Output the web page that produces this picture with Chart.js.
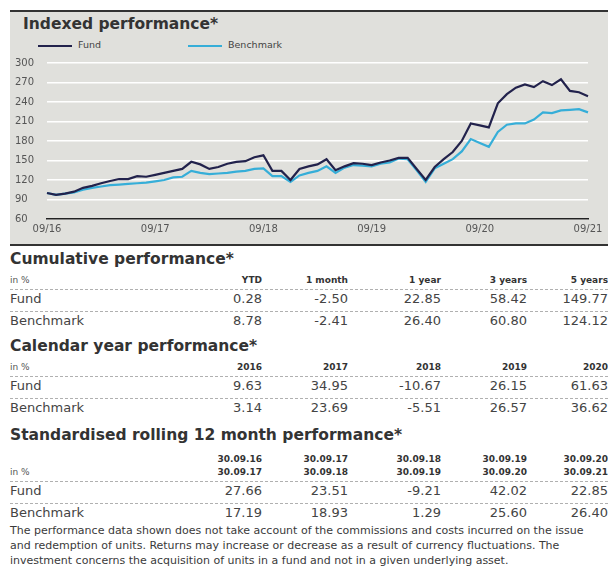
<!DOCTYPE html>
<html>
<head>
<meta charset="utf-8">
<script src="https://cdn.jsdelivr.net/npm/chart.js@4.4.0/dist/chart.umd.min.js"></script>
<style>
  body { margin: 0; width: 608px; height: 572px; background: #fff; position: relative; overflow: hidden;
         font-family: "DejaVu Sans", sans-serif; color: #3a3a3a; }
  #panel { position: absolute; left: 10px; top: 10px; width: 598px; height: 232px; background: #e0e0dc;
           border-top: 2px solid #333; border-bottom: 2px solid #333; }
  #panel h1 { position: absolute; left: 13px; top: 3px; margin: 0; font-size: 15.5px; font-weight: bold; color: #333; }
  #legend { position: absolute; left: 28px; top: 27px; font-size: 9.5px; color: #444; }
  .lg { position: absolute; white-space: nowrap; }
  .lg i { display: inline-block; width: 34px; height: 2px; vertical-align: middle; margin-right: 6px; }
  #wrap { position: absolute; left: 0; top: 40px; width: 598px; height: 192px; }
  .h2 { position: absolute; left: 10px; font-size: 15.5px; font-weight: bold; color: #333; white-space: nowrap; }
  .row { position: absolute; left: 10px; width: 598px; }
  .row span { position: absolute; white-space: nowrap; }
  .hdr { font-size: 9px; font-weight: bold; color: #333; line-height: 13px; text-align: right; }
  .unit { font-size: 9px; color: #555; }
  .val { font-size: 13px; color: #444; }
  .dash { position: absolute; left: 10px; width: 598px; border-top: 1px dashed #b0b0b0; height: 0; }
  #note { position: absolute; left: 10px; top: 523px; width: 592px; font-size: 11px; line-height: 15px; color: #3a3a3a; }
</style>
</head>
<body>
<div id="panel">
  <h1>Indexed performance*</h1>
  <div id="legend"></div>
  <div id="wrap"><canvas id="chart"></canvas></div>
</div>
<div id="tables"></div>
<div id="note">The performance data shown does not take account of the commissions and costs incurred on the issue and redemption of units. Returns may increase or decrease as a result of currency fluctuations. The investment concerns the acquisition of units in a fund and not in a given underlying asset.</div>

<script>
// monthly index values, 09/16 .. 09/21
const fund = [100, 97, 99, 102, 108, 111, 115, 118.5, 121.5, 121.5, 126, 125, 128,
  131, 134, 137, 148, 144, 137, 140, 145, 148, 149, 155, 158,
  134, 134, 120, 137, 141, 144, 152, 135, 141, 146, 145, 143,
  147, 150, 154, 154, 137, 120, 140, 152, 163, 180, 207, 204,
  201, 238, 252, 262, 267, 263, 272, 266, 275, 257, 255, 249];
const bench = [100, 97, 99, 101, 105, 108, 110, 112, 113, 114, 115, 116, 118,
  120, 124, 125, 134, 131, 129, 130, 131, 133, 134, 137, 138,
  126, 126, 117, 127, 131, 134, 141, 131, 139, 143, 142, 141,
  145, 147, 153, 152, 135, 117, 138, 145, 152, 164, 183, 177,
  171, 194, 205, 207, 207, 213, 224, 223, 227, 228, 229, 224];
const xTicks = ['09/16', '09/17', '09/18', '09/19', '09/20', '09/21'];
const seriesNames = ['Fund', 'Benchmark'];
const seriesColors = ['#22224c', '#36aed8'];

// tables
const cumHeaders = ['YTD', '1 month', '1 year', '3 years', '5 years'];
const cumFund = ['0.28', '-2.50', '22.85', '58.42', '149.77'];
const cumBench = ['8.78', '-2.41', '26.40', '60.80', '124.12'];
const calHeaders = ['2016', '2017', '2018', '2019', '2020'];
const calFund = ['9.63', '34.95', '-10.67', '26.15', '61.63'];
const calBench = ['3.14', '23.69', '-5.51', '26.57', '36.62'];
const rollHeaders = ['30.09.16<br>30.09.17', '30.09.17<br>30.09.18', '30.09.18<br>30.09.19', '30.09.19<br>30.09.20', '30.09.20<br>30.09.21'];
const rollFund = ['27.66', '23.51', '-9.21', '42.02', '22.85'];
const rollBench = ['17.19', '18.93', '1.29', '25.60', '26.40'];

const colRight = [252, 338, 431, 517, 598]; // right edges relative to left 10

function legend() {
  const el = document.getElementById('legend');
  const xs = [0, 150];
  seriesNames.forEach((n, i) => {
    const d = document.createElement('div');
    d.className = 'lg';
    d.style.left = xs[i] + 'px';
    d.innerHTML = `<i style="background:${seriesColors[i]}"></i>${n}`;
    el.appendChild(d);
  });
}

function addRow(top, cls, label, vals, labelCls) {
  const r = document.createElement('div');
  r.className = 'row';
  r.style.top = top + 'px';
  let h = `<span class="${labelCls}" style="left:0">${label}</span>`;
  vals.forEach((v, i) => {
    h += `<span class="${cls}" style="right:${598 - colRight[i]}px">${v}</span>`;
  });
  r.innerHTML = h;
  document.getElementById('tables').appendChild(r);
}

function addEl(cls, top, html) {
  const d = document.createElement('div');
  d.className = cls;
  d.style.top = top + 'px';
  if (html) d.innerHTML = html;
  document.getElementById('tables').appendChild(d);
}

function table(top, title, headers, f, b, twoLine) {
  addEl('h2', top, title);
  const hTop = top + (twoLine ? 27 : 24);
  addRow(hTop, 'hdr', twoLine ? '<br>in %' : 'in %', headers, 'unit hdr" style="text-align:left;font-weight:normal');
  const dTop = hTop + (twoLine ? 28 : 15);
  addEl('dash', dTop);
  addRow(dTop + 2, 'val', 'Fund', f, 'val');
  addEl('dash', dTop + 22);
  addRow(dTop + 24, 'val', 'Benchmark', b, 'val');
}

legend();
table(250, 'Cumulative performance*', cumHeaders, cumFund, cumBench, false);
table(337, 'Calendar year performance*', calHeaders, calFund, calBench, false);
table(426, 'Standardised rolling 12 month performance*', rollHeaders, rollFund, rollBench, true);

const labels = fund.map((_, i) => i);

new Chart(document.getElementById('chart'), {
  type: 'line',
  data: {
    labels,
    datasets: [
      { label: seriesNames[0], data: fund, borderColor: seriesColors[0], borderWidth: 2.2, pointRadius: 0, tension: 0 },
      { label: seriesNames[1], data: bench, borderColor: seriesColors[1], borderWidth: 2.2, pointRadius: 0, tension: 0 }
    ]
  },
  options: {
    responsive: true,
    maintainAspectRatio: false,
    animation: false,
    layout: { padding: { left: 5, right: 20, top: 11, bottom: 0 } },
    plugins: { legend: { display: false }, tooltip: { enabled: false } },
    scales: {
      x: {
        type: 'category',
        grid: { display: false, drawTicks: false },
        border: { display: true, color: '#222', width: 1.5 },
        afterFit: s => { s.height = 25; },
        ticks: {
          autoSkip: false, maxRotation: 0, minRotation: 0, padding: 4,
          color: '#555', font: { family: 'DejaVu Sans', size: 10 },
          callback: (v, i) => (i % 12 === 0 ? xTicks[i / 12] : '')
        }
      },
      y: {
        min: 60, max: 300,
        grid: { color: '#fff', lineWidth: 1.5, drawTicks: false },
        border: { display: false },
        afterFit: s => { s.width = 32; },
        ticks: {
          stepSize: 30, crossAlign: 'far', padding: 0,
          color: '#555', font: { family: 'DejaVu Sans', size: 10 }
        }
      }
    }
  }
});
</script>
</body>
</html>
